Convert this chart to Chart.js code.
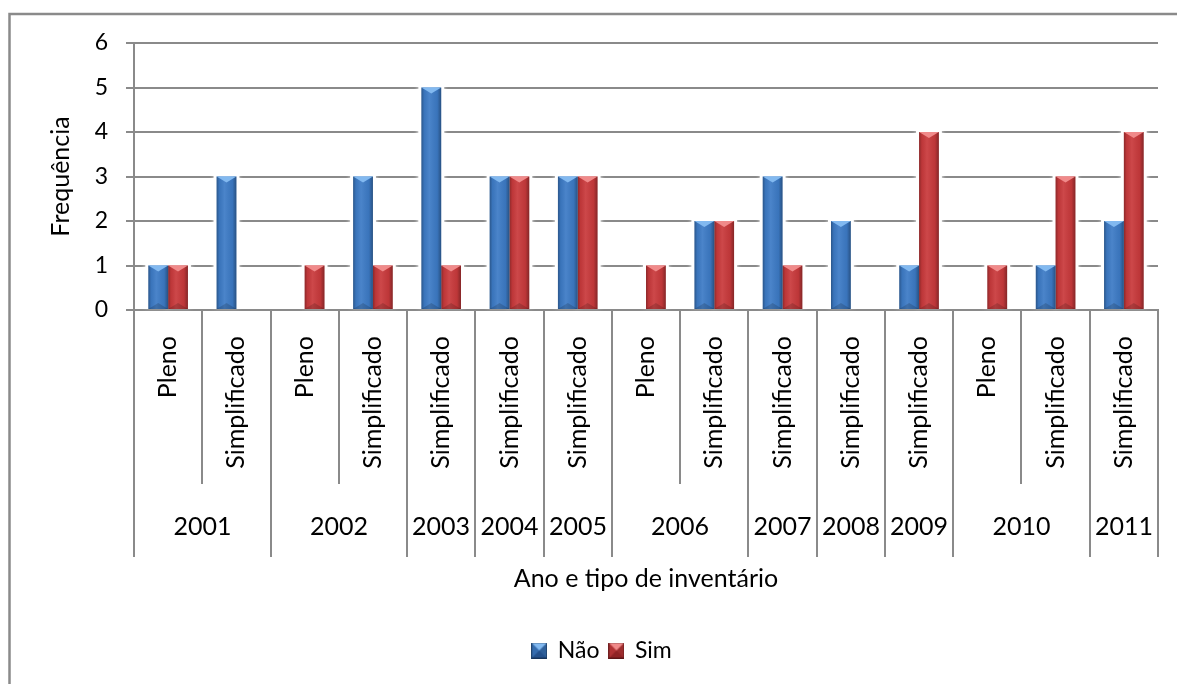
<!DOCTYPE html>
<html>
<head>
<meta charset="utf-8">
<title>Frequência por ano e tipo de inventário</title>
<script src="https://cdn.jsdelivr.net/npm/chart.js@4.4.1/dist/chart.umd.min.js"></script>
<style>
  html, body { margin: 0; padding: 0; background: #fff; }
  canvas { display: block; }
</style>
</head>
<body>
<canvas id="grafico" width="1177" height="684"></canvas>
<script>
// Categorias: ano e tipo de inventário
const anos = ['2001', '2001', '2002', '2002', '2003', '2004', '2005', '2006', '2006', '2007', '2008', '2009', '2010', '2010', '2011'];
const tipos = ['Pleno', 'Simplificado', 'Pleno', 'Simplificado', 'Simplificado', 'Simplificado', 'Simplificado',
               'Pleno', 'Simplificado', 'Simplificado', 'Simplificado', 'Simplificado', 'Pleno', 'Simplificado', 'Simplificado'];

// Frequências por série
const nao = [1, 3, 0, 3, 5, 3, 3, 0, 2, 3, 2, 1, 0, 1, 2];
const sim = [1, 0, 1, 1, 1, 3, 3, 1, 2, 1, 0, 4, 1, 3, 4];

// Marcas do eixo vertical
const yTicks = [0, 1, 2, 3, 4, 5, 6];

const FONTE = 'Lato, "Open Sans", sans-serif';
const CINZA = '#8a8a8a';

const paletas = [
  { base: '#3d7bc6', light: '#82b9f0', dark: '#24518c' },
  { base: '#c93a3c', light: '#f08a8a', dark: '#8f2325' }
];

// Amostras da legenda com facetas em bisel
function amostra(p) {
  const c = document.createElement('canvas');
  c.width = 16; c.height = 16;
  const g = c.getContext('2d');
  g.fillStyle = p.base; g.fillRect(0, 0, 16, 16);
  const tri = (pts, cor) => {
    g.fillStyle = cor; g.beginPath();
    g.moveTo(pts[0], pts[1]); g.lineTo(pts[2], pts[3]); g.lineTo(pts[4], pts[5]);
    g.closePath(); g.fill();
  };
  tri([0, 0, 16, 0, 8, 8], p.light);
  tri([0, 16, 16, 16, 8, 8], p.dark);
  tri([0, 0, 0, 16, 8, 8], 'rgba(0,0,0,0.12)');
  tri([16, 0, 16, 16, 8, 8], 'rgba(0,0,0,0.22)');
  g.strokeStyle = 'rgba(0,0,0,0.35)'; g.lineWidth = 1;
  g.strokeRect(0.5, 0.5, 15, 15);
  return c;
}
const amostras = paletas.map(amostra);

// Moldura externa do gráfico
const moldura = {
  id: 'moldura',
  beforeDraw(chart) {
    const ctx = chart.ctx;
    ctx.save();
    ctx.strokeStyle = CINZA;
    ctx.lineWidth = 2.5;
    ctx.strokeRect(9.5, 14, 1400, 1000);
    ctx.restore();
  }
};

function barras(chart, fn) {
  chart.getSortedVisibleDatasetMetas().forEach((meta) => {
    meta.data.forEach((el) => {
      const { x, y, base, width } = el.getProps(['x', 'y', 'base', 'width'], true);
      const topo = Math.min(y, base), fundo = Math.max(y, base);
      if (fundo - topo < 1) return;
      fn(meta.index, x, topo, fundo, width);
    });
  });
}

// Halo branco atrás das barras e sombreamento em bisel sobre elas
const bisel = {
  id: 'bisel',
  beforeDatasetsDraw(chart) {
    const ctx = chart.ctx;
    ctx.save();
    ctx.fillStyle = '#fff';
    ctx.shadowColor = 'rgba(255,255,255,1)';
    ctx.shadowBlur = 4;
    barras(chart, (i, x, topo, fundo, w) => {
      ctx.fillRect(x - w / 2 - 3, topo - 1, w + 6, fundo - topo - 1);
    });
    ctx.restore();
  },
  afterDatasetsDraw(chart) {
    const ctx = chart.ctx;
    ctx.save();
    barras(chart, (i, x, topo, fundo, w) => {
      const p = paletas[i];
      const l = x - w / 2, r = x + w / 2;
      const g = ctx.createLinearGradient(l, 0, r, 0);
      g.addColorStop(0, 'rgba(0,0,0,0.30)');
      g.addColorStop(0.14, 'rgba(0,0,0,0.06)');
      g.addColorStop(0.4, 'rgba(255,255,255,0.07)');
      g.addColorStop(0.8, 'rgba(0,0,0,0.06)');
      g.addColorStop(1, 'rgba(0,0,0,0.34)');
      ctx.fillStyle = g;
      ctx.fillRect(l, topo, w, fundo - topo);
      const bv = Math.min(6, (fundo - topo) / 2);
      ctx.fillStyle = p.light;
      ctx.beginPath(); ctx.moveTo(l, topo); ctx.lineTo(r, topo); ctx.lineTo(x, topo + bv); ctx.closePath(); ctx.fill();
      ctx.fillStyle = 'rgba(0,0,0,0.16)';
      ctx.beginPath(); ctx.moveTo(l, fundo); ctx.lineTo(r, fundo); ctx.lineTo(x, fundo - bv); ctx.closePath(); ctx.fill();
    });
    ctx.restore();
  }
};

// Eixo de categorias em dois níveis: tipo (vertical) e ano
const eixoDuplo = {
  id: 'eixoDuplo',
  afterDraw(chart) {
    const ctx = chart.ctx;
    const sx = chart.scales.x;
    const area = chart.chartArea;
    const n = anos.length;
    const borda = (i) => Math.round(sx.getPixelForValue(i - 0.5));
    ctx.save();
    ctx.strokeStyle = CINZA;
    ctx.lineWidth = 2;
    for (let i = 0; i <= n; i++) {
      const longa = i === 0 || i === n || anos[i] !== anos[i - 1];
      const xx = borda(i);
      ctx.beginPath();
      ctx.moveTo(xx, area.bottom);
      ctx.lineTo(xx, area.bottom + (longa ? 247 : 174));
      ctx.stroke();
    }
    ctx.fillStyle = '#000';
    ctx.font = '25px ' + FONTE;
    // Tipos, girados
    for (let i = 0; i < n; i++) {
      ctx.save();
      ctx.translate(sx.getPixelForValue(i), area.bottom + 26);
      ctx.rotate(-Math.PI / 2);
      ctx.textAlign = 'right';
      ctx.textBaseline = 'middle';
      ctx.fillText(tipos[i], 0, 0);
      ctx.restore();
    }
    // Anos, centrados no seu grupo
    ctx.textAlign = 'center';
    ctx.textBaseline = 'middle';
    let ini = 0;
    for (let i = 1; i <= n; i++) {
      if (i === n || anos[i] !== anos[ini]) {
        ctx.fillText(anos[ini], (borda(ini) + borda(i)) / 2, area.bottom + 217);
        ini = i;
      }
    }
    ctx.restore();
  }
};

new Chart(document.getElementById('grafico'), {
  type: 'bar',
  data: {
    labels: tipos.map((t, i) => [t, anos[i]]),
    datasets: [
      { label: 'Não', data: nao, backgroundColor: paletas[0].base, borderWidth: 0 },
      { label: 'Sim', data: sim, backgroundColor: paletas[1].base, borderWidth: 0 }
    ]
  },
  options: {
    responsive: false,
    animation: false,
    layout: { padding: { top: 43, left: 46, right: 19, bottom: 12 } },
    datasets: { bar: { categoryPercentage: 0.58, barPercentage: 1 } },
    plugins: {
      tooltip: { enabled: false },
      legend: {
        position: 'bottom',
        labels: {
          usePointStyle: true,
          boxWidth: 14,
          padding: 10,
          color: '#000',
          font: { family: FONTE, size: 23 },
          generateLabels(chart) {
            const itens = Chart.defaults.plugins.legend.labels.generateLabels(chart);
            itens.forEach((it, i) => { it.pointStyle = amostras[i]; });
            return itens;
          }
        }
      }
    },
    scales: {
      x: {
        ticks: { display: false },
        grid: { display: false },
        border: { display: true, color: CINZA, width: 2 },
        title: {
          display: true,
          text: 'Ano e tipo de inventário',
          color: '#000',
          font: { family: FONTE, size: 25 },
          padding: { top: 0, bottom: 35 }
        },
        afterFit(s) { s.height = 319; }
      },
      y: {
        min: yTicks[0],
        max: yTicks[yTicks.length - 1],
        ticks: { stepSize: 1, padding: 18, color: '#000', font: { family: FONTE, size: 23 } },
        grid: { color: CINZA, lineWidth: 2, tickLength: 8, drawTicks: true },
        border: { display: true, color: CINZA, width: 2 },
        title: {
          display: true,
          text: 'Frequência',
          color: '#000',
          font: { family: FONTE, size: 25 },
          padding: { top: 0, bottom: 0 }
        },
        afterFit(s) { s.width = 88; }
      }
    }
  },
  plugins: [moldura, bisel, eixoDuplo]
});
</script>
</body>
</html>
